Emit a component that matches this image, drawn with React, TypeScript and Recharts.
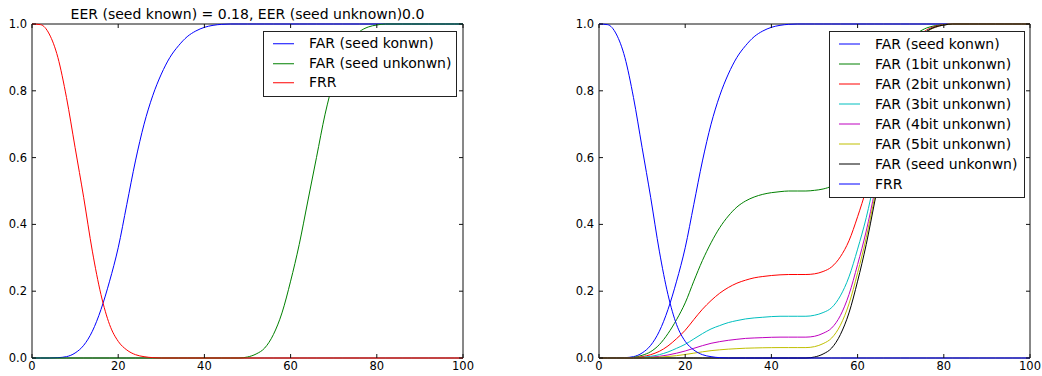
import React from 'react';
import { LineChart, Line, XAxis, YAxis, Legend, ReferenceArea } from 'recharts';

// thresholds, step 2
const thresholds = [
  0, 2, 4, 6, 8, 10, 12, 14, 16, 18, 20, 22, 24, 26, 28, 30, 32, 34, 36, 38, 40, 42, 44, 46, 48, 50,
  52, 54, 56, 58, 60, 62, 64, 66, 68, 70, 72, 74, 76, 78, 80, 82, 84, 86, 88, 90, 92, 94, 96, 98, 100,
];

const farSeedKnown = [
  0, 0, 0, 0.001, 0.004, 0.015, 0.038, 0.08, 0.145, 0.23, 0.33, 0.46, 0.59, 0.7, 0.785, 0.85, 0.9, 0.935, 0.962, 0.979,
  0.99, 0.996, 0.999, 1, 1, 1, 1, 1, 1, 1, 1, 1, 1, 1, 1, 1, 1, 1, 1, 1, 1, 1, 1, 1, 1, 1, 1, 1, 1, 1, 1,
];

const farSeedUnknown = [
  0, 0, 0, 0, 0, 0, 0, 0, 0, 0, 0, 0, 0, 0, 0, 0, 0, 0, 0, 0, 0, 0, 0, 0, 0, 0.003,
  0.012, 0.03, 0.07, 0.135, 0.23, 0.34, 0.47, 0.6, 0.73, 0.83, 0.9, 0.948, 0.977, 0.991, 0.997, 1, 1, 1, 1, 1, 1, 1, 1, 1, 1,
];

const frr = [
  1, 0.998, 0.97, 0.9, 0.78, 0.63, 0.48, 0.32, 0.19, 0.1, 0.05, 0.024, 0.01, 0.004, 0.001, 0, 0, 0, 0, 0, 0, 0, 0, 0, 0, 0,
  0, 0, 0, 0, 0, 0, 0, 0, 0, 0, 0, 0, 0, 0, 0, 0, 0, 0, 0, 0, 0, 0, 0, 0, 0,
];

const far1bit = [
  0, 0, 0, 0.0005, 0.002, 0.008, 0.019, 0.04, 0.073, 0.115, 0.165, 0.23, 0.292, 0.345, 0.39, 0.425, 0.452, 0.47, 0.482,
  0.49, 0.495, 0.498, 0.5, 0.5, 0.5, 0.502, 0.506, 0.515, 0.535, 0.568, 0.615, 0.67, 0.735, 0.8, 0.865, 0.915, 0.95,
  0.974, 0.988, 0.995, 0.998, 1, 1, 1, 1, 1, 1, 1, 1, 1, 1,
];

const far2bit = [
  0, 0, 0, 0.0003, 0.001, 0.004, 0.01, 0.02, 0.036, 0.058, 0.083, 0.115, 0.146, 0.172, 0.194, 0.211, 0.224, 0.233,
  0.24, 0.244, 0.247, 0.249, 0.25, 0.25, 0.25, 0.252, 0.259, 0.273, 0.303, 0.351, 0.423, 0.505, 0.6, 0.7, 0.797,
  0.872, 0.923, 0.96, 0.982, 0.993, 0.998, 1, 1, 1, 1, 1, 1, 1, 1, 1, 1,
];

const far3bit = [
  0, 0, 0, 0.0001, 0.0005, 0.002, 0.005, 0.01, 0.018, 0.029, 0.041, 0.057, 0.073, 0.087, 0.097, 0.106, 0.112, 0.117,
  0.12, 0.122, 0.124, 0.125, 0.125, 0.125, 0.125, 0.128, 0.136, 0.151, 0.186, 0.243, 0.326, 0.42, 0.535, 0.65, 0.763,
  0.852, 0.91, 0.953, 0.979, 0.991, 0.997, 1, 1, 1, 1, 1, 1, 1, 1, 1, 1,
];

const far4bit = [
  0, 0, 0, 0, 0.0002, 0.001, 0.0024, 0.005, 0.009, 0.0144, 0.021, 0.029, 0.037, 0.044, 0.049, 0.053, 0.056, 0.0587,
  0.06, 0.061, 0.062, 0.0625, 0.0625, 0.0625, 0.0625, 0.065, 0.074, 0.09, 0.127, 0.19, 0.28, 0.38, 0.5, 0.625, 0.745,
  0.84, 0.904, 0.95, 0.977, 0.99, 0.997, 1, 1, 1, 1, 1, 1, 1, 1, 1, 1,
];

const far5bit = [
  0, 0, 0, 0, 0.0001, 0.0005, 0.0012, 0.0025, 0.0045, 0.007, 0.0105, 0.0145, 0.0185, 0.022, 0.0245, 0.0265, 0.028,
  0.0293, 0.03, 0.0306, 0.031, 0.0312, 0.0312, 0.0312, 0.0312, 0.034, 0.043, 0.06, 0.098, 0.162, 0.255, 0.36, 0.485,
  0.612, 0.738, 0.835, 0.9, 0.948, 0.976, 0.99, 0.997, 1, 1, 1, 1, 1, 1, 1, 1, 1, 1,
];

const xTicks = [0, 20, 40, 60, 80, 100];
const yTicks = [0, 0.2, 0.4, 0.6, 0.8, 1.0];

const leftSeries = [
  { key: 'known', name: 'FAR (seed konwn)', color: '#0000ff' },
  { key: 'unknown', name: 'FAR (seed unkonwn)', color: '#008000' },
  { key: 'frr', name: 'FRR', color: '#ff0000' },
];

const rightSeries = [
  { key: 'known', name: 'FAR (seed konwn)', color: '#0000ff' },
  { key: 'b1', name: 'FAR (1bit unkonwn)', color: '#008000' },
  { key: 'b2', name: 'FAR (2bit unkonwn)', color: '#ff0000' },
  { key: 'b3', name: 'FAR (3bit unkonwn)', color: '#00bfbf' },
  { key: 'b4', name: 'FAR (4bit unkonwn)', color: '#bf00bf' },
  { key: 'b5', name: 'FAR (5bit unkonwn)', color: '#bfbf00' },
  { key: 'unknown', name: 'FAR (seed unkonwn)', color: '#000000' },
  { key: 'frr', name: 'FRR', color: '#0000ff' },
];

const rows = thresholds.map((t, i) => ({
  t,
  known: farSeedKnown[i],
  unknown: farSeedUnknown[i],
  frr: frr[i],
  b1: far1bit[i],
  b2: far2bit[i],
  b3: far3bit[i],
  b4: far4bit[i],
  b5: far5bit[i],
}));

const FONT = '"DejaVu Sans", sans-serif';
const AXIS = '#111';
// plot box in chart-local coords (same for both panels)
const PL = 32;
const PR = 463;
const PT = 24;
const PB = 358;

const XTick = ({ x, payload }: any) => (
  <g>
    <line x1={x} x2={x} y1={PB} y2={PB - 4} stroke={AXIS} />
    <line x1={x} x2={x} y1={PT} y2={PT + 4} stroke={AXIS} />
    <text x={x} y={362} dy="0.71em" textAnchor="middle" fontSize={11.5} fontFamily={FONT} fill="#000">
      {payload.value}
    </text>
  </g>
);

const YTick = ({ y, payload }: any) => (
  <g>
    <line x1={PL} x2={PL + 4} y1={y} y2={y} stroke={AXIS} />
    <line x1={PR} x2={PR - 4} y1={y} y2={y} stroke={AXIS} />
    <text x={27} y={y} dy="0.355em" textAnchor="end" fontSize={11.5} fontFamily={FONT} fill="#000">
      {Number(payload.value).toFixed(1)}
    </text>
  </g>
);

const LegendBox = ({ items, rowH }: any) => (
  <div
    style={{
      background: '#fff',
      border: '1px solid #222',
      padding: '2px 0 3px 0',
      fontFamily: FONT,
      fontSize: 14,
      color: '#000',
      boxSizing: 'border-box',
    }}
  >
    {items.map((p: any) => (
      <div key={p.name} style={{ display: 'flex', alignItems: 'center', height: rowH }}>
        <svg width={45} height={rowH} style={{ flex: 'none', display: 'block' }}>
          <line x1={9} x2={30} y1={rowH / 2} y2={rowH / 2} stroke={p.color} strokeWidth={1} />
        </svg>
        <span style={{ whiteSpace: 'nowrap', lineHeight: `${rowH}px` }}>{p.name}</span>
      </div>
    ))}
  </div>
);

function panelAxes() {
  return [
    <XAxis
      key="xb"
      xAxisId="b"
      dataKey="t"
      type="number"
      domain={[0, 100]}
      ticks={xTicks}
      height={18}
      tickSize={0}
      tick={<XTick />}
      axisLine={false}
      tickLine={false}
    />,
    <YAxis
      key="yl"
      yAxisId="l"
      type="number"
      domain={[0, 1]}
      ticks={yTicks}
      width={32}
      tickSize={0}
      tick={<YTick />}
      axisLine={false}
      tickLine={false}
    />,
    <ReferenceArea
      key="frame"
      xAxisId="b"
      yAxisId="l"
      x1={0}
      x2={100}
      y1={0}
      y2={1}
      fill="none"
      fillOpacity={0}
      stroke={AXIS}
      strokeWidth={1}
      strokeOpacity={1}
      ifOverflow="visible"
    />,
  ];
}

const seriesLines = (list: typeof leftSeries) =>
  list.map((s) => (
    <Line
      key={s.key}
      xAxisId="b"
      yAxisId="l"
      type="monotone"
      dataKey={s.key}
      name={s.name}
      stroke={s.color}
      strokeWidth={1}
      dot={false}
      activeDot={false}
      isAnimationActive={false}
    />
  ));

export default function App() {
  return (
    <div style={{ position: 'absolute', left: 0, top: 0, width: 1042, height: 376, background: '#fff', overflow: 'hidden' }}>
      <div
        style={{
          position: 'absolute',
          left: PL,
          width: PR - PL,
          top: 6,
          textAlign: 'center',
          fontFamily: FONT,
          fontSize: 14,
          lineHeight: '17px',
          whiteSpace: 'nowrap',
        }}
      >
        EER (seed known) = 0.18, EER (seed unknown)0.0
      </div>

      <div style={{ position: 'absolute', left: 0, top: 0 }}>
        <LineChart width={480} height={376} data={rows} margin={{ top: PT, right: 480 - PR, bottom: 0, left: 0 }}>
          {panelAxes()}
          {seriesLines(leftSeries)}
          <Legend
            layout="vertical"
            align="center"
            verticalAlign="middle"
            content={<LegendBox items={leftSeries} rowH={19.5} />}
            wrapperStyle={{ position: 'absolute', left: 263, top: 31, width: 194 }}
          />
        </LineChart>
      </div>

      <div style={{ position: 'absolute', left: 567, top: 0 }}>
        <LineChart width={475} height={376} data={rows} margin={{ top: PT, right: 475 - PR, bottom: 0, left: 0 }}>
          {panelAxes()}
          {seriesLines(rightSeries)}
          <Legend
            layout="vertical"
            align="center"
            verticalAlign="middle"
            content={<LegendBox items={rightSeries} rowH={20} />}
            wrapperStyle={{ position: 'absolute', left: 262, top: 31, width: 196 }}
          />
        </LineChart>
      </div>
    </div>
  );
}
